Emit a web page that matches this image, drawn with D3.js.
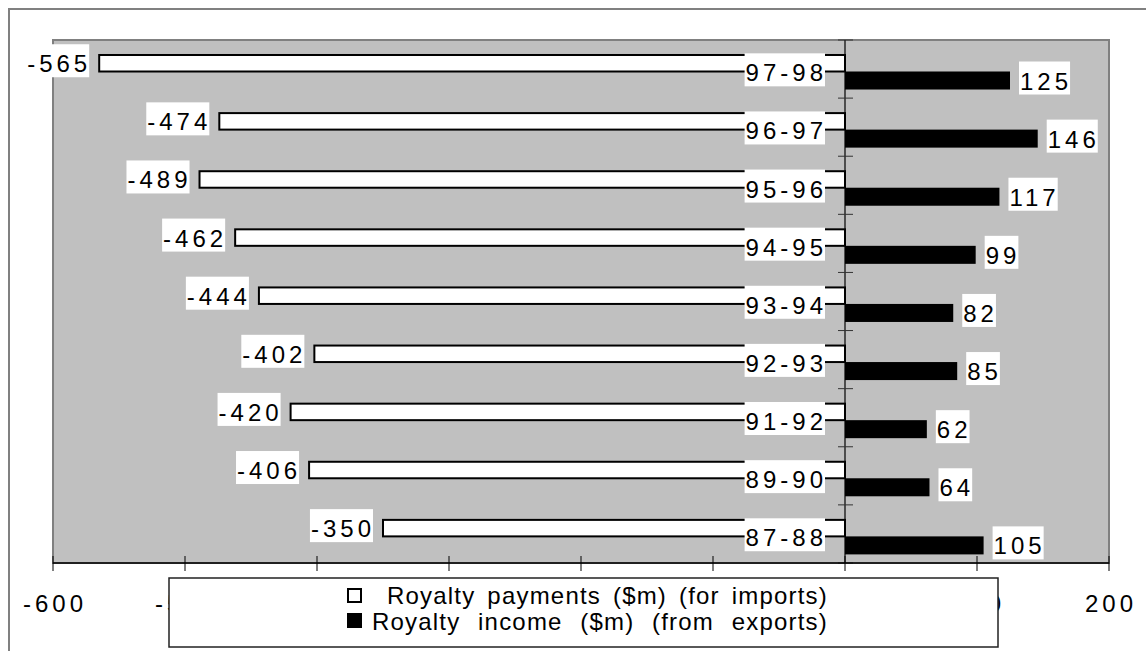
<!DOCTYPE html>
<html lang="en">
<head>
<meta charset="utf-8">
<title>Royalty payments and income</title>
<script src="https://cdn.jsdelivr.net/npm/d3@7"></script>
<style>
  body { margin: 0; background: #fff; }
  svg { display: block; }
  text { font-family: "Liberation Sans", Arial, sans-serif; fill: #000; }
</style>
</head>
<body>
<script>
// data
var categories = ["97-98", "96-97", "95-96", "94-95", "93-94", "92-93", "91-92", "89-90", "87-88"];
var payments = [-565, -474, -489, -462, -444, -402, -420, -406, -350];
var income = [125, 146, 117, 99, 82, 85, 62, 64, 105];
var xTicks = [-600, -500, -400, -300, -200, -100, 0, 100, 200];
var seriesNames = ["Royalty payments ($m) (for imports)", "Royalty income ($m) (from exports)"];

var W = 1146, H = 651;
var svg = d3.select("body").append("svg")
  .attr("width", W)
  .attr("height", H);

var x = d3.scaleLinear().domain([-600, 200]).range([53, 1109]);
var y = d3.scaleBand().domain(categories).range([40, 563]).padding(0);
var bw = y.bandwidth();

// outer frame (only top and left show)
svg.append("path")
  .attr("d", "M9," + H + "V9H" + W)
  .attr("fill", "none")
  .attr("stroke", "#808080")
  .attr("stroke-width", 2);

// plot area
svg.append("rect")
  .attr("x", x(-600)).attr("y", 40)
  .attr("width", x(200) - x(-600)).attr("height", 563 - 40)
  .attr("fill", "#c0c0c0")
  .attr("stroke", "#808080")
  .attr("stroke-width", 2);

var rows = categories.map(function(c, i) {
  return { cat: c, pay: payments[i], inc: income[i] };
});

// white bars (payments)
svg.selectAll("rect.pay").data(rows).enter().append("rect")
  .attr("class", "pay")
  .attr("x", function(d) { return x(d.pay); })
  .attr("y", function(d) { return y(d.cat) + bw * 0.258; })
  .attr("width", function(d) { return x(0) - x(d.pay); })
  .attr("height", bw * 0.284)
  .attr("fill", "#fff")
  .attr("stroke", "#000")
  .attr("stroke-width", 2);

// black bars (income)
svg.selectAll("rect.inc").data(rows).enter().append("rect")
  .attr("class", "inc")
  .attr("x", x(0))
  .attr("y", function(d) { return y(d.cat) + bw * 0.542; })
  .attr("width", function(d) { return x(d.inc) - x(0); })
  .attr("height", bw * 0.31)
  .attr("fill", "#000");

// zero axis + category ticks
svg.append("line")
  .attr("x1", x(0)).attr("x2", x(0))
  .attr("y1", 40).attr("y2", 563)
  .attr("stroke", "#000").attr("stroke-width", 1.2);

var bounds = categories.map(function(c) { return y(c); }).concat([563]);
svg.selectAll("line.ctick").data(bounds).enter().append("line")
  .attr("x1", x(0) - 7).attr("x2", x(0) + 8)
  .attr("y1", function(d) { return d; }).attr("y2", function(d) { return d; })
  .attr("stroke", "#333").attr("stroke-width", 1);

// x axis
svg.append("line")
  .attr("x1", x(-600)).attr("x2", x(200))
  .attr("y1", 563).attr("y2", 563)
  .attr("stroke", "#000").attr("stroke-width", 1.5);

svg.selectAll("line.xtick").data(xTicks).enter().append("line")
  .attr("x1", function(d) { return x(d); }).attr("x2", function(d) { return x(d); })
  .attr("y1", 556).attr("y2", 571)
  .attr("stroke", "#000").attr("stroke-width", 1);

svg.selectAll("text.xlab").data(xTicks).enter().append("text")
  .attr("x", function(d) { return x(d) + 2; })
  .attr("y", 612)
  .attr("text-anchor", "middle")
  .style("font-size", "24px")
  .style("letter-spacing", "4px")
  .text(function(d) { return d; });

// label with white box behind it
function boxedLabel(tx, ty, anchor, str) {
  var g = svg.append("g");
  var box = g.append("rect").attr("fill", "#fff");
  var t = g.append("text")
    .attr("x", tx).attr("y", ty)
    .attr("text-anchor", anchor)
    .style("font-size", "24px")
    .style("letter-spacing", "4px")
    .text(str);
  var bb = t.node().getBBox();
  box.attr("x", bb.x - 1)
    .attr("y", ty - 28)
    .attr("width", bb.width - 1)
    .attr("height", 33);
}

rows.forEach(function(d) {
  boxedLabel(x(d.pay) - 8, y(d.cat) + bw * 0.4 + 9, "end", d.pay);
  boxedLabel(x(d.inc) + 10, y(d.cat) + bw * 0.697 + 9, "start", d.inc);
  boxedLabel(x(0) - 18, y(d.cat) + bw * 0.565 + 8.5, "end", d.cat);
});

// legend
var legend = svg.append("g");
legend.append("rect")
  .attr("x", 169).attr("y", 578)
  .attr("width", 998 - 169).attr("height", 647 - 578)
  .attr("fill", "#fff")
  .attr("stroke", "#222")
  .attr("stroke-width", 1.5);

legend.append("rect")
  .attr("x", 348).attr("y", 589).attr("width", 13).attr("height", 13)
  .attr("fill", "#fff").attr("stroke", "#000").attr("stroke-width", 2);
legend.append("rect")
  .attr("x", 347).attr("y", 613).attr("width", 15).attr("height", 15)
  .attr("fill", "#000");

var legendRows = [
  { name: seriesNames[0], x0: 387, base: 604 },
  { name: seriesNames[1], x0: 372, base: 630 }
];
legendRows.forEach(function(r) {
  var t = legend.append("text")
    .attr("x", r.x0).attr("y", r.base)
    .style("font-size", "24px")
    .style("letter-spacing", "1.2px")
    .text(r.name);
  // stretch the word gaps so the line ends where the reference does
  var natural = t.node().getComputedTextLength();
  var spaces = r.name.split(" ").length - 1;
  var extra = (828 - r.x0 - natural) / spaces;
  if (extra > 0) t.style("word-spacing", extra + "px");
});
</script>
</body>
</html>
